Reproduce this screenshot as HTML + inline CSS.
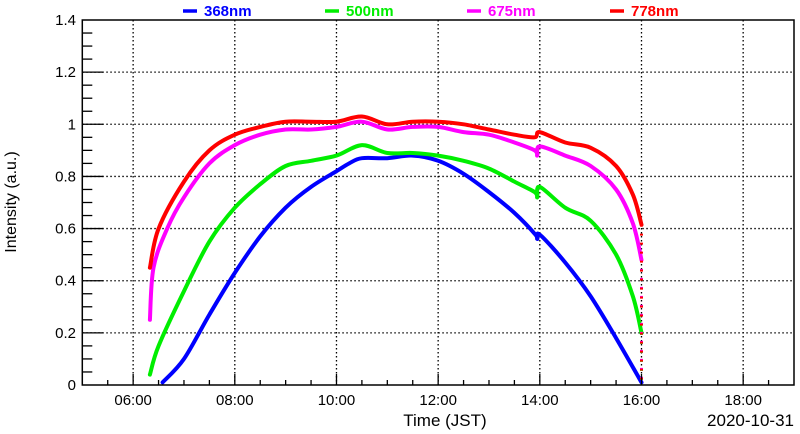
<!DOCTYPE html>
<html><head><meta charset="utf-8"><style>
body{margin:0;background:#fff;}
svg{display:block;font-family:"Liberation Sans",sans-serif;}
</style></head><body>
<svg id="chart" width="800" height="434" xmlns="http://www.w3.org/2000/svg">
<g id="grid"></g>
<g id="series"></g>
<rect x="82.3" y="20" width="711.7" height="365" fill="none" stroke="#000" stroke-width="1.5"/>
<g id="axes"></g>
<text x="16" y="202" transform="rotate(-90 16 202)" text-anchor="middle" font-size="16">Intensity (a.u.)</text>
<text x="445" y="426" text-anchor="middle" font-size="17">Time (JST)</text>
<text x="794" y="426" text-anchor="end" font-size="17">2020-10-31</text>
<g id="legend"></g>
</svg>
<script>
const seriesNames = ["368nm","500nm","675nm","778nm"];
const seriesColors = ["#0000ff","#00ee00","#ff00ff","#ff0000"];
const t368 = [6.58,7.0,7.5,8.0,8.5,9.0,9.5,10.0,10.25,10.5,11.0,11.5,12.0,12.5,13.0,13.5,13.9,13.95,14.0,14.5,15.0,15.5,16.0];
const v368 = [0.01,0.1,0.27,0.43,0.57,0.68,0.76,0.82,0.85,0.87,0.87,0.88,0.86,0.81,0.74,0.66,0.58,0.56,0.577,0.47,0.34,0.18,0.01];
const t500 = [6.33,6.5,7.0,7.5,8.0,8.5,9.0,9.5,10.0,10.5,11.0,11.5,12.0,12.5,13.0,13.5,13.9,13.95,14.0,14.5,15.0,15.5,15.83,16.0];
const v500 = [0.04,0.15,0.36,0.55,0.68,0.77,0.84,0.86,0.88,0.92,0.89,0.89,0.88,0.86,0.83,0.78,0.74,0.72,0.76,0.68,0.63,0.5,0.34,0.2];
const t675 = [6.33,6.4,6.67,7.0,7.5,8.0,8.5,9.0,9.5,10.0,10.5,11.0,11.5,12.0,12.5,13.0,13.5,13.9,13.95,14.0,14.5,15.0,15.5,15.83,16.0];
const v675 = [0.25,0.45,0.6,0.72,0.85,0.92,0.96,0.98,0.98,0.99,1.01,0.98,0.99,0.99,0.97,0.96,0.93,0.9,0.88,0.915,0.88,0.84,0.75,0.62,0.48];
const t778 = [6.33,6.5,7.0,7.5,8.0,8.5,9.0,9.5,10.0,10.5,11.0,11.5,12.0,12.5,13.0,13.5,13.9,14.0,14.5,15.0,15.5,15.83,16.0];
const v778 = [0.45,0.6,0.78,0.9,0.96,0.99,1.01,1.01,1.01,1.03,1.0,1.01,1.01,1.0,0.98,0.96,0.95,0.97,0.93,0.91,0.84,0.73,0.615];
const xTickLabels = ["06:00","08:00","10:00","12:00","14:00","16:00","18:00"];
const xTickHours = [6,8,10,12,14,16,18];
const yTickLabels = ["0","0.2","0.4","0.6","0.8","1","1.2","1.4"];
const yTickValues = [0,0.2,0.4,0.6,0.8,1.0,1.2,1.4];

const X0=82.3,X1=794,Y0=385,Y1=20,TMIN=5,TMAX=19,VMIN=0,VMAX=1.4;
const sx=t=>X0+(t-TMIN)/(TMAX-TMIN)*(X1-X0);
const sy=v=>Y0-(v-VMIN)/(VMAX-VMIN)*(Y0-Y1);
const NS="http://www.w3.org/2000/svg";
function mk(tag,attrs,parent){const e=document.createElementNS(NS,tag);for(const k in attrs)e.setAttribute(k,attrs[k]);parent.appendChild(e);return e;}
function smoothPath(p){
  let d='M'+p[0][0].toFixed(1)+','+p[0][1].toFixed(1);
  for(let i=0;i<p.length-1;i++){
    const a=p[Math.max(i-1,0)],b=p[i],c=p[i+1],e=p[Math.min(i+2,p.length-1)];
    const c1=[b[0]+(c[0]-a[0])/6,b[1]+(c[1]-a[1])/6],c2=[c[0]-(e[0]-b[0])/6,c[1]-(e[1]-b[1])/6];
    d+=' C'+c1[0].toFixed(1)+','+c1[1].toFixed(1)+' '+c2[0].toFixed(1)+','+c2[1].toFixed(1)+' '+c[0].toFixed(1)+','+c[1].toFixed(1);
  }
  return d;
}
const grid=document.getElementById('grid'),axes=document.getElementById('axes'),ser=document.getElementById('series'),leg=document.getElementById('legend');
xTickHours.forEach((h,i)=>{
  const x=sx(h);
  const g=mk('line',{x1:x,x2:x,y1:Y1,y2:Y0,stroke:'#000','stroke-width':1.3,'stroke-dasharray':'1.5,2.5'},grid);
  
  
  const t=mk('text',{x:x,y:405,'text-anchor':'middle','font-size':15},axes);
  t.textContent=xTickLabels[i];
  
  
});
for(let h=TMIN+0.5;h<TMAX;h+=0.5){
  const x=sx(h);const major=Number.isInteger(h)&&h%2===0;
  const l=mk('line',{x1:x,x2:x,y1:Y0,y2:Y0-(major?11:5),stroke:'#000','stroke-width':1.3},axes);
  
  
}
yTickValues.forEach((v,i)=>{
  const y=sy(v);
  if(v>0&&v<1.4){const g=mk('line',{x1:X0,x2:X1,y1:y,y2:y,stroke:'#000','stroke-width':1.3,'stroke-dasharray':'1.5,2.5'},grid);
  
  }
  const t=mk('text',{x:76,y:y+5,'text-anchor':'end','font-size':15},axes);
  t.textContent=yTickLabels[i];
  
  
});
for(let k=1;k<28;k++){
  const v=k*0.05;const y=sy(v);const major=k%4===0;
  const l=mk('line',{x1:X0,x2:X0+(major?21:10),y1:y,y2:y,stroke:'#000','stroke-width':1.3},axes);
  
  
}
const allT=[t368,t500,t675,t778],allV=[v368,v500,v675,v778];
allT.forEach((ts,i)=>{
  const pts=ts.map((t,j)=>[sx(t),sy(allV[i][j])]);
  const p=mk('path',{d:smoothPath(pts),fill:'none',stroke:seriesColors[i],'stroke-width':4,'stroke-linejoin':'round','stroke-linecap':'round'},ser);
  
  
  const lastV=allV[i][allV[i].length-1];
  if(lastV>0.05){const d=mk('line',{x1:sx(16),x2:sx(16),y1:sy(lastV),y2:sy(0),stroke:seriesColors[i],'stroke-width':3,'stroke-dasharray':'2,7'},ser);
  
  }
});
const legX=[183,325,467,610];
seriesNames.forEach((n,i)=>{
  const l=mk('line',{x1:legX[i],x2:legX[i]+14,y1:11,y2:11,stroke:seriesColors[i],'stroke-width':3.5},leg);
  
  
  const t=mk('text',{x:legX[i]+21,y:16,'font-size':15,'font-weight':'bold',fill:seriesColors[i]},leg);
  t.textContent=n;
  
  
});
</script>
</body></html>
